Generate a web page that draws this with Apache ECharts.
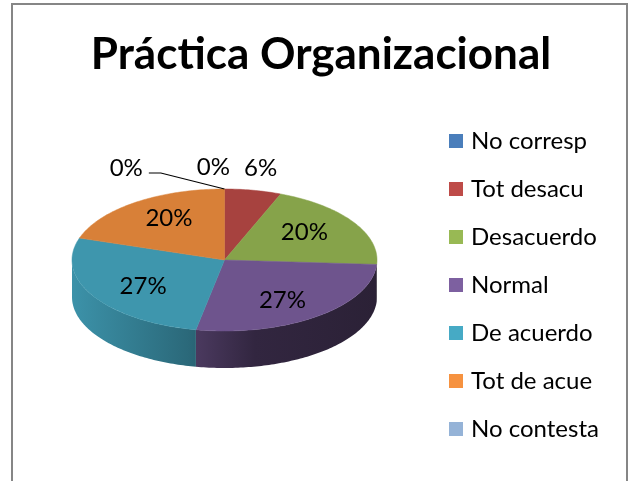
<!DOCTYPE html>
<html><head><meta charset="utf-8">
<script src="https://cdn.jsdelivr.net/npm/echarts@6/dist/echarts.min.js"></script>
<style>html,body{margin:0;padding:0;background:#fff}#c{width:628px;height:481px}</style>
</head><body><div id="c"></div>
<script>
const chartTitle = 'Práctica Organizacional';
const categories = ['No corresp','Tot desacu','Desacuerdo','Normal','De acuerdo','Tot de acue','No contesta'];
const percentages = [0, 6, 20, 27, 27, 20, 0];

// styles / geometry (kept apart from data)
const legendColors = ['#4A7EBB','#BE4B48','#98B954','#7D60A0','#46AAC5','#F69240','#95B3D7'];
const TOP_SHADE = 0.88;
const CX = 224.5, CY = 260, RX = 152.5, RY = 71, DEPTH = 37;
const LABEL_FONT = '24px Lato';

function hexToRgb(h){ h=h.replace('#',''); return [parseInt(h.substr(0,2),16),parseInt(h.substr(2,2),16),parseInt(h.substr(4,2),16)]; }
function shade(h,f){ const c=hexToRgb(h).map(v=>Math.max(0,Math.min(255,Math.round(v*f)))); return 'rgb('+c.join(',')+')'; }

const total = percentages.reduce((a,b)=>a+b,0);
const angles = []; { let acc=0; percentages.forEach(v=>{ const a0=acc/total*Math.PI*2; acc+=v; angles.push([a0, acc/total*Math.PI*2]); }); }

function pt(t,dy){ return [CX+RX*Math.sin(t), CY-RY*Math.cos(t)+(dy||0)]; }
function arcPts(a0,a1,dy){ const pts=[]; const n=Math.max(2,Math.ceil(Math.abs(a1-a0)/(Math.PI/180))); for(let k=0;k<=n;k++){ pts.push(pt(a0+(a1-a0)*k/n,dy)); } return pts; }

// label layout
const measureCtx = document.createElement('canvas').getContext('2d');
measureCtx.font = LABEL_FONT;
function layoutLabels(){
  const res = percentages.map((v,i)=>{
    const [a0,a1]=angles[i]; const mid=(a0+a1)/2;
    const text = Math.round(v/total*100)+'%';
    const w = measureCtx.measureText(text).width;
    if (v/total >= 0.1) {
      return {text, w, x: CX+0.62*RX*Math.sin(mid), y: CY-0.72*RY*Math.cos(mid), outside:false};
    }
    const an = pt(mid);
    return {text, w, x: an[0]+40*Math.sin(mid), y: an[1]-22, outside:true, anchor: an, leader:false};
  });
  const order = res.map((r,i)=>i).filter(i=>res[i].outside).sort((a,b)=>percentages[b]-percentages[a] || a-b);
  const placed=[];
  order.forEach(i=>{
    const r=res[i];
    let guard=0;
    while(guard++<10){
      const hit = placed.find(p=>Math.abs(p.x-r.x) < (p.w+r.w)/2+10 && Math.abs(p.y-r.y)<20);
      if(!hit) break;
      r.x = hit.x - (hit.w+r.w)/2 - 14;
      if(!r.leader && r.anchor[0]-r.x > 30){ r.leader=true; r.x -= 40; r.y += 1; }
    }
    placed.push(r);
  });
  return res;
}
const labels = layoutLabels();

const sliceSeries = categories.map((name,i)=>({
  type:'custom', name, coordinateSystem:'none', silent:true,
  itemStyle:{color: legendColors[i]},
  data:[[percentages[i]]],
  renderItem:function(params, api){
    const v = api.value(0);
    if(!(v>0)) return {type:'group', children:[]};
    const [a0,a1]=angles[i];
    const base = legendColors[i];
    const children=[];
    const s0=Math.max(a0,Math.PI/2), s1=Math.min(a1,Math.PI*1.5);
    if(s1>s0){
      const pts = arcPts(s0,s1,0).concat(arcPts(s1,s0,DEPTH));
      children.push({type:'polygon', z2:1, shape:{points:pts}, style:{
        fill:{type:'linear', x:CX-RX, y:0, x2:CX+RX, y2:0, global:true, colorStops:[
          {offset:0, color:shade(base,0.86)},
          {offset:0.38, color:shade(base,0.62)},
          {offset:0.6, color:shade(base,0.40)},
          {offset:1, color:shade(base,0.34)}]}, stroke:null}});
    }
    children.push({type:'polygon', z2:2, shape:{points:[[CX,CY]].concat(arcPts(a0,a1,0))},
      style:{fill:shade(base,TOP_SHADE), stroke:shade(base,TOP_SHADE), lineWidth:0.5}});
    return {type:'group', children};
  }
}));

const labelSeries = {
  type:'custom', name:'labels', coordinateSystem:'none', silent:true, z:5,
  data: percentages.map((v,i)=>[v,i]),
  renderItem:function(params, api){
    const i = api.value(1); const L = labels[i];
    const ch=[{type:'text', style:{text:L.text, x:L.x, y:L.y, font:LABEL_FONT, fill:'#000', align:'center', verticalAlign:'middle'}}];
    if(L.leader){
      const sx = L.x + L.w/2 + 6, sy = L.y + 5;
      ch.push({type:'polyline', shape:{points:[[sx,sy],[sx+12,sy],L.anchor]}, style:{stroke:'#000', lineWidth:1.2, fill:null}});
    }
    return {type:'group', children:ch};
  }
};

const chart = echarts.init(document.getElementById('c'), null, {renderer:'canvas'});
chart.setOption({
  animation:false,
  backgroundColor:'#fff',
  title:{text:chartTitle, left:316, textAlign:'center', top:28, textStyle:{fontFamily:'Lato', fontWeight:'bold', fontSize:44, color:'#000'}},
  legend:{data:categories, orient:'vertical', left:444, top:124, itemWidth:14, itemHeight:14, itemGap:24, icon:'rect',
    textStyle:{fontFamily:'Lato', fontSize:24, lineHeight:24, color:'#000', padding:[0,0,0,3]}},
  graphic:[{type:'rect', shape:{x:12, y:4, width:615, height:500}, style:{fill:null, stroke:'#868686', lineWidth:2}, silent:true}],
  series: sliceSeries.concat([labelSeries])
});
</script></body></html>
